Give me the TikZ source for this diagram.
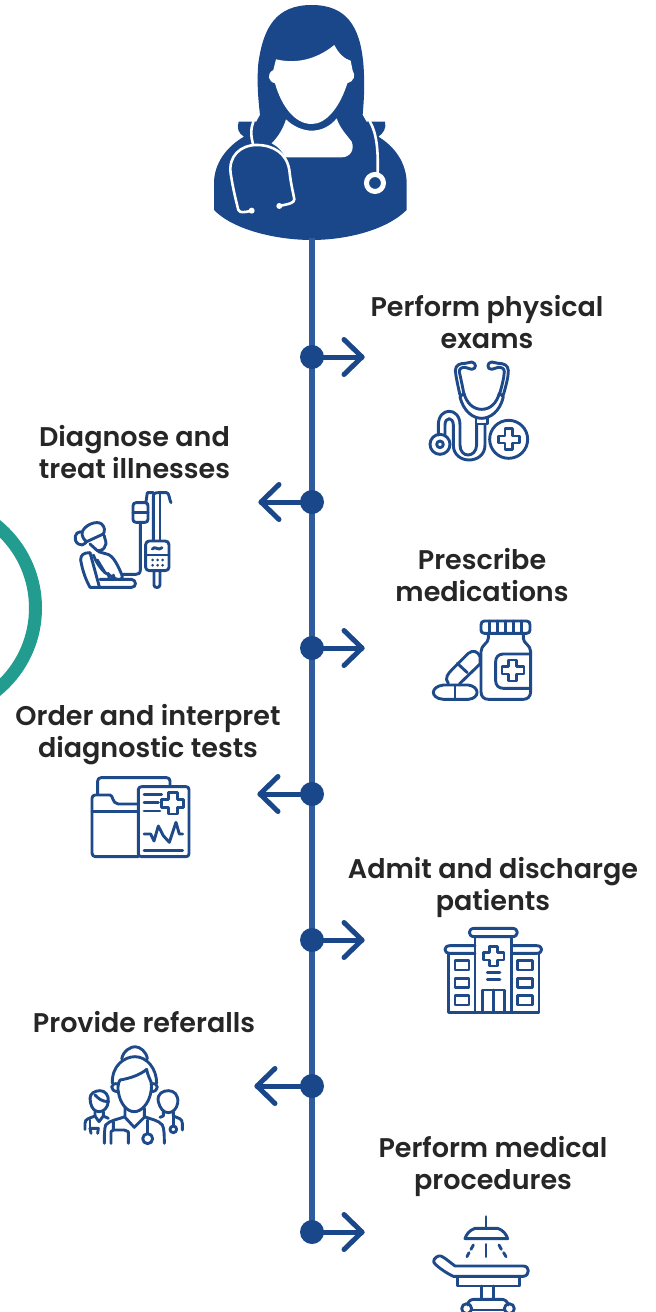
\documentclass[tikz,border=0pt]{standalone}
\usepackage{fontspec}
\usetikzlibrary{calc}
\setmainfont{Poppins}[BoldFont={Poppins SemiBold}]
\definecolor{navy}{HTML}{1A4789}
\definecolor{spine}{HTML}{2F5C9E}
\definecolor{icon}{HTML}{1F4A8A}
\definecolor{tealc}{HTML}{219C8E}
\definecolor{ink}{HTML}{262626}
\tikzset{
  lbl/.style={font=\bfseries\fontsize{27}{32}\selectfont,text=ink,align=center,inner sep=0pt},
  dotn/.style={circle,fill=navy,minimum size=24pt,inner sep=0pt},
  arrowline/.style={draw=navy,line width=5pt,line cap=round,line join=round},
  ico/.style={draw=icon,line width=2.9pt,line cap=round,line join=round},
  wl/.style={draw=white,line width=2.6pt,line cap=round,line join=round},
  zm/.style={x=0.3333pt,y=-0.3333pt}
}
\begin{document}
\begin{tikzpicture}[x=1pt,y=-1pt]
\useasboundingbox (0,0) rectangle (656,1312);
\fill[white] (0,0) rectangle (656,1312);
% teal arc
\begin{scope}
\clip (0,0) rectangle (656,1312);
\draw[tealc,line width=13pt] (-71,608) circle (106.5);
\end{scope}
% doctor
\begin{scope}[shift={(200,0)},zm]
\fill[navy] (335,15) .. controls (230,15) and (190,80) .. (175,190) .. controls (170,250) and (175,300) .. (180,345) .. controls (165,370) and (160,385) .. (160,410) -- (520,410) .. controls (510,385) and (500,365) .. (488,345) .. controls (492,300) and (495,250) .. (490,190) .. controls (480,80) and (440,15) .. (335,15) -- cycle;
\fill[navy] (42,630) -- (42,550) .. controls (42,490) and (80,440) .. (132,410) .. controls (115,400) and (110,385) .. (116,365) -- (160,365) -- (510,365) -- (555,365) .. controls (560,385) and (550,400) .. (535,410) .. controls (585,440) and (620,490) .. (620,550) -- (620,630) .. controls (560,690) and (440,720) .. (335,720) .. controls (230,720) and (100,690) .. (42,630) -- cycle;
\fill[white] (228,178) .. controls (300,195) and (360,170) .. (403,135) .. controls (415,160) and (435,178) .. (452,182) -- (458,212) .. controls (468,225) and (462,245) .. (442,250) .. controls (420,320) and (380,372) .. (335,372) .. controls (285,372) and (245,320) .. (225,250) .. controls (205,245) and (198,222) .. (220,210) -- cycle;
\fill[white] (258,358) .. controls (280,380) and (310,392) .. (335,392) .. controls (365,392) and (392,378) .. (410,355) .. controls (420,385) and (440,405) .. (455,425) .. controls (465,450) and (450,472) .. (425,472) -- (255,472) .. controls (248,455) and (235,440) .. (215,430) .. controls (235,410) and (250,385) .. (258,358) -- cycle;
\path[wl] (160,365) .. controls (152,385) and (152,410) .. (160,435);
\path[wl] (115,630) .. controls (105,590) and (98,560) .. (92,520) .. controls (85,470) and (120,435) .. (170,435) .. controls (220,435) and (260,460) .. (268,510) .. controls (272,550) and (280,580) .. (283,598) .. controls (283,610) and (265,612) .. (238,618);
\path[wl] (115,630) .. controls (120,640) and (135,637) .. (155,632);
\fill[white] (155,632) circle (9);
\fill[white] (238,618) circle (9);
\path[wl] (510,365) .. controls (530,400) and (535,450) .. (533,520);
\draw[white,line width=5pt] (525,549) circle (25.5);
\end{scope}
% spine
\coordinate (top) at (312,238);
\coordinate (bot) at (312,1232);
\draw[spine,line width=6pt] (top) -- (bot);
\node[dotn] (d1) at (312,357) {};
\node[dotn] (d2) at (312,502) {};
\node[dotn] (d3) at (312,648) {};
\node[dotn] (d4) at (312,794) {};
\node[dotn] (d5) at (312,940) {};
\node[dotn] (d6) at (312,1086) {};
\node[dotn] (d7) at (312,1232) {};
% arrows
\foreach \n in {d1,d3,d5,d7}{
  \path[arrowline] (\n.center) -- ++(50,0) coordinate (t);
  \path[arrowline] ($(t)+(-18,-17.5)$) -- (t) -- ($(t)+(-18,17.5)$);
}
\foreach \n/\l in {d2/51,d4/52,d6/55}{
  \path[arrowline] (\n.center) -- ++(-\l,0) coordinate (t);
  \path[arrowline] ($(t)+(18,-17.5)$) -- (t) -- ($(t)+(18,17.5)$);
}
% labels
\node[lbl] (l1) at (487,322) {Perform physical\\exams};
\node[lbl] (l2) at (134.5,452) {Diagnose and\\treat illnesses};
\node[lbl] (l3) at (482,575) {Prescribe\\medications};
\node[lbl] (l4) at (148,735) {Order and interpret\\diagnostic tests};
\node[lbl] (l5) at (493,887) {Admit and discharge\\patients};
\node[lbl] (l6) at (144,1022) {Provide referalls};
\node[lbl] (l7) at (493,1166) {Perform medical\\procedures};
% stethoscope icon
\begin{scope}[shift={(410,350)},zm]
\path[ico] (150,135) .. controls (142,100) and (138,80) .. (136,62) .. controls (136,45) and (150,40) .. (165,40);
\path[ico] (162,135) .. controls (158,110) and (152,85) .. (148,65) .. controls (148,55) and (155,52) .. (165,52);
\path[ico] (165,40) -- (185,36) .. controls (200,38) and (200,58) .. (185,58) -- (165,52);
\path[ico] (280,135) .. controls (290,100) and (295,80) .. (295,62) .. controls (295,45) and (280,40) .. (265,40);
\path[ico] (268,135) .. controls (275,110) and (282,85) .. (283,65) .. controls (283,55) and (275,52) .. (265,52);
\path[ico] (265,40) -- (245,36) .. controls (230,38) and (230,58) .. (245,58) -- (265,52);
\path[ico] (150,140) .. controls (160,185) and (190,205) .. (215,205) .. controls (240,205) and (270,185) .. (280,140) -- (268,130) .. controls (260,160) and (240,178) .. (215,178) .. controls (190,178) and (170,160) .. (162,130) -- cycle;
\path[ico] (198,205) -- (198,222) -- (232,222) -- (232,205);
\path[ico] (200,222) -- (200,285) .. controls (198,325) and (150,325) .. (150,285) -- (150,225) .. controls (150,170) and (85,170) .. (85,225) -- (85,255);
\path[ico] (225,222) -- (225,285) .. controls (225,345) and (130,345) .. (130,285) -- (130,225) .. controls (130,200) and (105,200) .. (105,225) -- (105,255);
\draw[ico] (90,283) circle (30);
\draw[ico] (90,283) circle (10);
\draw[ico] (296,268) circle (57);
\path[ico] (285,235) -- (307,235) -- (307,258) -- (328,258) -- (328,279) -- (307,279) -- (307,298) -- (285,298) -- (285,279) -- (265,279) -- (265,258) -- (285,258) -- cycle;
\end{scope}
% IV icon
\begin{scope}[shift={(60,480)},zm]
\path[ico] (280,180) -- (280,50) .. controls (280,40) and (285,38) .. (295,38) -- (320,38) .. controls (328,38) and (328,60) .. (333,68);
\path[ico] (300,180) -- (300,38);
\path[ico] (280,38) -- (262,38) -- (258,66);
\path[ico] (228,68) -- (255,68) .. controls (262,68) and (264,72) .. (264,78) -- (264,118) .. controls (264,124) and (260,127) .. (255,127) -- (228,127) .. controls (222,127) and (219,124) .. (219,118) -- (219,78) .. controls (219,72) and (222,68) .. (228,68) -- cycle;
\path[ico] (219,97) -- (264,97);
\path[ico] (241,127) -- (241,270) .. controls (241,280) and (235,283) .. (228,283) -- (190,283);
\path[ico] (268,183) -- (315,183) .. controls (322,183) and (327,187) .. (327,194) -- (327,262) .. controls (327,268) and (322,272) .. (315,272) -- (268,272) .. controls (262,272) and (257,268) .. (257,262) -- (257,194) .. controls (257,187) and (262,183) .. (268,183) -- cycle;
\path[ico] (257,225) -- (327,225);
\path[ico] (277,207) .. controls (285,195) and (295,215) .. (306,203);
\foreach \xx in {278,293,308}{\fill[icon] (\xx,240) circle (4.5); \fill[icon] (\xx,256) circle (4.5);}
\path[ico] (282,272) -- (282,315) .. controls (282,325) and (300,325) .. (300,315) -- (300,272);
% patient
\path[ico] (66,158) .. controls (72,135) and (110,120) .. (125,132) .. controls (135,142) and (135,152) .. (130,162) -- (80,185) .. controls (72,180) and (66,170) .. (66,158) -- cycle;
\path[ico] (62,155) .. controls (45,155) and (38,180) .. (55,192) .. controls (62,198) and (72,195) .. (78,188);
\path[ico] (132,165) .. controls (135,180) and (142,190) .. (135,198) .. controls (132,208) and (125,212) .. (112,212) -- (90,192);
\path[ico] (90,218) .. controls (70,218) and (62,225) .. (62,240) .. controls (68,275) and (78,300) .. (90,322) -- (215,322) .. controls (230,322) and (230,300) .. (215,298) -- (120,298);
\path[ico] (90,218) -- (118,320);
\path[ico] (115,215) -- (140,222) .. controls (160,225) and (175,260) .. (185,283) .. controls (192,298) and (180,300) .. (170,298) -- (135,278) -- (112,240);
\path[ico] (100,225) .. controls (110,250) and (122,265) .. (135,278);
\path[ico] (145,280) -- (148,298); \path[ico] (160,285) -- (163,298);
\end{scope}
% pills icon
\begin{scope}[shift={(420,610)},zm]
\path[ico] (193,33) -- (320,33) .. controls (328,33) and (330,38) .. (330,45) -- (330,60) .. controls (330,66) and (326,70) .. (320,70) -- (193,70) .. controls (186,70) and (183,66) .. (183,60) -- (183,45) .. controls (183,38) and (186,33) .. (193,33) -- cycle;
\foreach \xx in {208,232,256,280,304}{\path[ico] (\xx,33) -- (\xx,70);}
\path[ico] (205,70) -- (205,85) .. controls (205,100) and (183,105) .. (183,125) -- (183,245) .. controls (183,260) and (192,268) .. (205,268) -- (310,268) .. controls (322,268) and (332,260) .. (332,245) -- (332,125) .. controls (332,105) and (310,100) .. (310,85) -- (310,70);
\path[ico] (332,132) -- (250,132) .. controls (235,132) and (227,142) .. (227,155) -- (227,212) .. controls (227,225) and (235,235) .. (250,235) -- (332,235);
\path[ico] (266,150) -- (290,150) -- (290,170) -- (312,170) -- (312,192) -- (290,192) -- (290,213) -- (266,213) -- (266,192) -- (246,192) -- (246,170) -- (266,170) -- cycle;
\path[ico] (85,220) .. controls (72,205) and (85,190) .. (95,180) -- (145,130) .. controls (160,118) and (175,125) .. (180,140) -- (180,162) -- (118,222);
\path[ico] (112,160) -- (142,188);
\path[ico] (70,225) -- (145,225) .. controls (180,230) and (180,265) .. (145,268) -- (70,268) .. controls (30,265) and (30,230) .. (70,225) -- cycle;
\path[ico] (105,225) -- (105,268);
\end{scope}
% folder icon
\begin{scope}[shift={(80,765)},zm]
\path[ico] (53,88) -- (53,48) .. controls (53,42) and (57,38) .. (63,38) -- (260,38) .. controls (266,38) and (270,42) .. (270,48) -- (270,62);
\path[ico] (175,275) -- (46,275) .. controls (40,275) and (36,270) .. (36,264) -- (36,100) .. controls (36,94) and (40,90) .. (46,90) -- (90,90) .. controls (100,90) and (95,115) .. (115,117) -- (175,117);
\path[ico] (36,140) -- (175,140);
\path[ico] (185,65) -- (318,65) .. controls (324,65) and (327,68) .. (327,74) -- (327,266) .. controls (327,272) and (324,275) .. (318,275) -- (185,275) .. controls (179,275) and (175,272) .. (175,266) -- (175,74) .. controls (175,68) and (179,65) .. (185,65) -- cycle;
\path[ico] (192,88) -- (245,88); \path[ico] (192,112) -- (235,112); \path[ico] (192,138) -- (240,138);
\path[ico] (265,82) -- (292,82) -- (292,103) -- (310,103) -- (310,128) -- (292,128) -- (292,147) -- (265,147) -- (265,128) -- (245,128) -- (245,103) -- (265,103) -- cycle;
\path[ico] (192,207) -- (212,207) -- (222,228) -- (235,183) -- (250,212) -- (268,232) -- (288,172) -- (298,207) -- (308,207);
\path[ico] (192,257) -- (308,257);
\end{scope}
% hospital icon
\begin{scope}[shift={(435,920)},zm]
\path[ico] (118,25) -- (232,25) .. controls (252,25) and (252,50) .. (232,50) -- (118,50) .. controls (98,50) and (98,25) .. (118,25) -- cycle;
\path[ico] (120,50) -- (120,278); \path[ico] (230,50) -- (230,278);
\path[ico] (120,77) -- (45,77) .. controls (25,77) and (25,100) .. (45,100) -- (120,100);
\path[ico] (230,77) -- (305,77) .. controls (325,77) and (325,100) .. (305,100) -- (230,100);
\path[ico] (40,100) -- (40,278) -- (312,278) -- (312,100);
\path[ico] (163,80) -- (188,80) -- (188,98) -- (207,98) -- (207,120) -- (188,120) -- (188,138) -- (163,138) -- (163,120) -- (146,120) -- (146,98) -- (163,98) -- cycle;
\path[ico] (157,157) -- (195,157); \path[ico] (157,178) -- (195,178);
\path[ico] (143,278) -- (143,210) -- (208,210) -- (208,278); \path[ico] (175,210) -- (175,278);
\foreach \yy in {122,175,227}{\draw[ico] (60,\yy) rectangle (102,\yy+28); \draw[ico] (248,\yy) rectangle (292,\yy+28);}
\end{scope}
% team icon
\begin{scope}[shift={(75,1040)},zm]
\path[ico] (140,57) .. controls (145,30) and (170,20) .. (180,20) .. controls (195,20) and (215,35) .. (217,57);
\path[ico] (112,130) .. controls (110,75) and (150,50) .. (180,50) .. controls (215,50) and (245,85) .. (245,130);
\path[ico] (135,120) .. controls (165,115) and (195,105) .. (215,88) .. controls (218,105) and (225,118) .. (228,125);
\path[ico] (135,120) .. controls (128,130) and (128,150) .. (130,155) .. controls (135,190) and (155,215) .. (178,215) .. controls (200,215) and (222,190) .. (228,155) .. controls (230,145) and (230,130) .. (228,125);
\path[ico] (130,132) .. controls (105,125) and (102,155) .. (130,155);
\path[ico] (228,132) .. controls (252,125) and (255,155) .. (228,155);
\path[ico] (150,205) -- (150,230) .. controls (130,238) and (105,240) .. (92,255) .. controls (88,265) and (88,290) .. (88,310);
\path[ico] (208,205) -- (208,230) .. controls (228,238) and (250,240) .. (262,255) .. controls (268,265) and (268,290) .. (268,310);
\path[ico] (150,232) -- (178,262) -- (208,232);
\path[ico] (115,245) -- (115,270) -- (108,275) -- (108,310);
\path[ico] (115,270) -- (148,270) -- (160,275) -- (160,310);
\path[ico] (218,240) -- (218,280);
\draw[ico] (218,296) circle (15);
% left person
\path[ico] (45,175) .. controls (45,160) and (60,152) .. (75,152) .. controls (90,152) and (102,165) .. (100,185);
\path[ico] (45,175) -- (47,190) .. controls (50,205) and (60,215) .. (72,215) .. controls (85,215) and (98,205) .. (100,185) .. controls (80,185) and (70,175) .. (60,165);
\path[ico] (60,215) -- (60,228) .. controls (45,235) and (30,235) .. (30,250) -- (30,268);
\path[ico] (85,215) -- (85,228) -- (100,235);
\path[ico] (60,228) -- (72,245) -- (85,228);
\path[ico] (45,240) -- (45,265);
\path[ico] (45,265) -- (48,280); \path[ico] (45,265) -- (70,265) -- (68,280);
% right person
\path[ico] (250,185) .. controls (245,160) and (265,152) .. (280,152) .. controls (295,152) and (312,162) .. (308,190) .. controls (305,205) and (295,218) .. (280,218) .. controls (265,218) and (255,205) .. (250,185) -- cycle;
\path[ico] (295,215) -- (295,228) .. controls (310,235) and (322,235) .. (322,250) -- (322,270);
\path[ico] (265,215) -- (265,228) -- (255,232);
\path[ico] (295,228) -- (295,258);
\draw[ico] (295,268) circle (10);
\end{scope}
% table icon
\begin{scope}[shift={(425,1210)},zm]
\path[ico] (183,20) -- (183,55);
\path[ico] (150,55) -- (218,55) .. controls (235,60) and (245,75) .. (248,86) -- (120,86) .. controls (123,75) and (133,60) .. (150,55) -- cycle;
\path[ico] (183,103) -- (183,140);
\path[ico] (145,105) -- (138,118); \path[ico] (132,128) -- (126,140);
\path[ico] (222,105) -- (229,118); \path[ico] (236,128) -- (243,140);
\path[ico] (48,138) .. controls (40,135) and (25,145) .. (26,155) .. controls (28,165) and (65,190) .. (85,199) -- (295,199) .. controls (315,197) and (315,168) .. (295,168) -- (90,168) -- (60,145) -- (48,138);
\path[ico] (97,199) -- (97,228) -- (283,228) -- (283,199);
\path[ico] (170,228) -- (170,268); \path[ico] (205,228) -- (205,268);
\path[ico] (128,285) .. controls (130,270) and (140,268) .. (150,268) -- (230,268) .. controls (240,268) and (248,275) .. (250,285);
\path[ico] (140,300) -- (240,300);
\draw[ico] (125,296) circle (15);
\draw[ico] (253,296) circle (15);
\end{scope}
\end{tikzpicture}
\end{document}
